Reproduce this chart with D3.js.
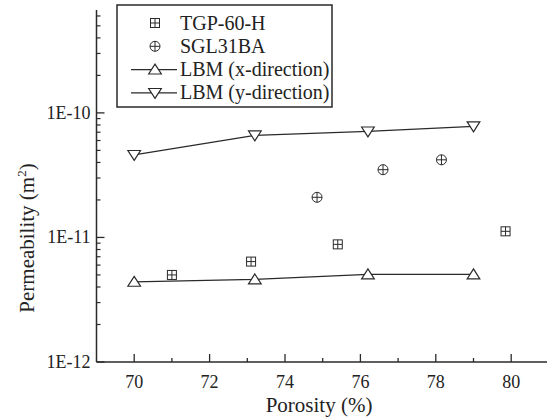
<!DOCTYPE html>
<html>
<head>
<meta charset="utf-8">
<script src="https://cdn.jsdelivr.net/npm/d3@7"></script>
<style>
  body { margin: 0; background: #fff; }
</style>
</head>
<body>
<script>
// ==== data ====
var lbmXPorosity = [70, 73.2, 76.2, 79];
var lbmXPerm = [4.4e-12, 4.6e-12, 5.05e-12, 5.05e-12];
var lbmYPorosity = [70, 73.2, 76.2, 79];
var lbmYPerm = [4.6e-11, 6.6e-11, 7.1e-11, 7.8e-11];
var tgpPorosity = [71, 73.1, 75.4, 79.85];
var tgpPerm = [5.0e-12, 6.4e-12, 8.8e-12, 1.12e-11];
var sglPorosity = [74.85, 76.6, 78.15];
var sglPerm = [2.1e-11, 3.5e-11, 4.2e-11];
var xTicks = [70, 72, 74, 76, 78, 80];
var yTicks = [1e-12, 1e-11, 1e-10];
var yTickLabels = ["1E-12", "1E-11", "1E-10"];
var legendNames = ["TGP-60-H", "SGL31BA", "LBM (x-direction)", "LBM (y-direction)"];

var width = 547, height = 420;
var ink = "#2a2a2a";
var serif = "Liberation Serif";

var svg = d3.select("body").append("svg")
    .attr("width", width)
    .attr("height", height)
    .attr("font-family", serif);

var x = d3.scaleLinear().domain([69, 81]).range([96.5, 548.9]);
var y = d3.scaleLog().domain([1e-12, 6.7e-10]).range([362, 10]);

function zip(a, b) { return a.map(function(v, i) { return [v, b[i]]; }); }

// ==== axes ====
var xMinor = d3.range(70, 81, 1).filter(function(v) { return xTicks.indexOf(v) < 0; });
var xAxis = svg.append("g").attr("transform", "translate(0,362)");
xAxis.append("line").attr("x1", 96.5).attr("x2", width).attr("stroke", ink).attr("stroke-width", 1.5);
xAxis.selectAll(".maj").data(xTicks).enter().append("line")
    .attr("x1", function(d) { return x(d); }).attr("x2", function(d) { return x(d); })
    .attr("y1", 0).attr("y2", -8).attr("stroke", ink).attr("stroke-width", 1.3);
xAxis.selectAll(".min").data(xMinor).enter().append("line")
    .attr("x1", function(d) { return x(d); }).attr("x2", function(d) { return x(d); })
    .attr("y1", 0).attr("y2", -4).attr("stroke", ink).attr("stroke-width", 1.3);
xAxis.selectAll("text").data(xTicks).enter().append("text")
    .attr("x", function(d) { return x(d); }).attr("y", 26)
    .attr("text-anchor", "middle").attr("font-size", 18).attr("fill", "#222")
    .text(function(d) { return d; });

var yMinor = [];
[-12, -11, -10].forEach(function(e) {
  for (var k = 2; k <= 9; k++) {
    var v = k * Math.pow(10, e);
    if (v < y.domain()[1]) yMinor.push(v);
  }
});
var yAxis = svg.append("g").attr("transform", "translate(96.5,0)");
yAxis.append("line").attr("y1", 362).attr("y2", 10).attr("stroke", ink).attr("stroke-width", 1.5);
yAxis.selectAll(".maj").data(yTicks).enter().append("line")
    .attr("y1", function(d) { return y(d); }).attr("y2", function(d) { return y(d); })
    .attr("x1", 0).attr("x2", 8).attr("stroke", ink).attr("stroke-width", 1.3);
yAxis.selectAll(".min").data(yMinor).enter().append("line")
    .attr("y1", function(d) { return y(d); }).attr("y2", function(d) { return y(d); })
    .attr("x1", 0).attr("x2", 4).attr("stroke", ink).attr("stroke-width", 1.2);
yAxis.selectAll("text").data(yTicks).enter().append("text")
    .attr("x", -6).attr("y", function(d) { return y(d) + 6; })
    .attr("text-anchor", "end").attr("font-size", 18).attr("fill", "#222")
    .text(function(d, i) { return yTickLabels[i]; });

svg.append("text").attr("x", 319).attr("y", 412)
    .attr("text-anchor", "middle").attr("font-size", 21).attr("fill", "#222")
    .text("Porosity (%)");

var yt = svg.append("text")
    .attr("transform", "translate(34,238) rotate(-90)")
    .attr("text-anchor", "middle").attr("font-size", 21).attr("fill", "#222");
yt.append("tspan").text("Permeability (m");
yt.append("tspan").attr("font-size", 13).attr("dy", -8).text("2");
yt.append("tspan").attr("dy", 8).text(")");

// ==== marker shapes ====
function triUp(g, s) {
  g.append("path").attr("d", "M0," + (-s) + "L" + (s * 1.15) + "," + (s * 0.8) + "L" + (-s * 1.15) + "," + (s * 0.8) + "Z")
    .attr("fill", "#fff").attr("stroke", ink).attr("stroke-width", 1.2);
}
function triDown(g, s) {
  g.append("path").attr("d", "M0," + s + "L" + (s * 1.15) + "," + (-s * 0.8) + "L" + (-s * 1.15) + "," + (-s * 0.8) + "Z")
    .attr("fill", "#fff").attr("stroke", ink).attr("stroke-width", 1.2);
}
function boxPlus(g) {
  g.append("rect").attr("x", -4.5).attr("y", -4.5).attr("width", 9).attr("height", 9)
    .attr("fill", "#fff").attr("stroke", ink).attr("stroke-width", 1);
  g.append("path").attr("d", "M-4.5,0H4.5M0,-4.5V4.5").attr("stroke", ink).attr("stroke-width", 1);
}
function circlePlus(g) {
  g.append("circle").attr("r", 5).attr("fill", "#fff").attr("stroke", ink).attr("stroke-width", 1);
  g.append("path").attr("d", "M-5,0H5M0,-5V5").attr("stroke", ink).attr("stroke-width", 1);
}

// ==== series ====
var line = d3.line()
    .x(function(d) { return x(d[0]); })
    .y(function(d) { return y(d[1]); });

[[lbmXPorosity, lbmXPerm], [lbmYPorosity, lbmYPerm]].forEach(function(s) {
  svg.append("path").datum(zip(s[0], s[1])).attr("d", line)
    .attr("fill", "none").attr("stroke", ink).attr("stroke-width", 1.3);
});

function drawPoints(px, py, fn, s) {
  zip(px, py).forEach(function(d) {
    var g = svg.append("g").attr("transform", "translate(" + x(d[0]) + "," + y(d[1]) + ")");
    fn(g, s);
  });
}
drawPoints(lbmXPorosity, lbmXPerm, triUp, 5.5);
drawPoints(lbmYPorosity, lbmYPerm, triDown, 5.5);
drawPoints(tgpPorosity, tgpPerm, boxPlus);
drawPoints(sglPorosity, sglPerm, circlePlus);

// ==== legend ====
var legend = svg.append("g");
legend.append("rect").attr("x", 117).attr("y", 5).attr("width", 215).attr("height", 102)
    .attr("fill", "#fff").attr("stroke", ink).attr("stroke-width", 1.5);
var legendFns = [boxPlus, circlePlus, triUp, triDown];
legendNames.forEach(function(name, i) {
  var cy = 23 + i * 23.3;
  if (i >= 2) {
    legend.append("line").attr("x1", 131).attr("x2", 177).attr("y1", cy).attr("y2", cy)
      .attr("stroke", ink).attr("stroke-width", 1.3);
  }
  var g = legend.append("g").attr("transform", "translate(155," + cy + ")");
  legendFns[i](g, 5.5);
  legend.append("text").attr("x", 180).attr("y", cy + 6.5)
    .attr("font-size", 20).attr("fill", "#222").text(name);
});
</script>
</body>
</html>
